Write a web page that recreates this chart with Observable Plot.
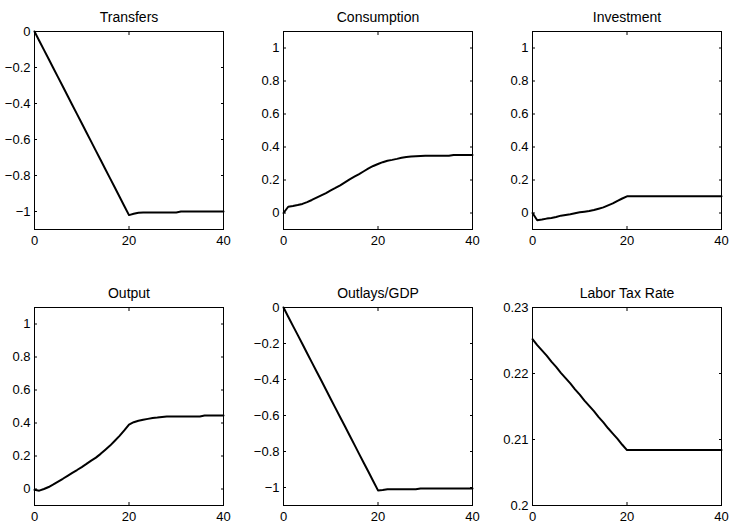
<!DOCTYPE html>
<html>
<head>
<meta charset="utf-8">
<script src="https://cdn.jsdelivr.net/npm/d3@7"></script>
<script src="https://cdn.jsdelivr.net/npm/@observablehq/plot@0.6"></script>
<style>
  html, body { margin: 0; padding: 0; background: #fff; }
  #chart { position: relative; width: 729px; height: 527px; background: #fff; overflow: hidden; }
  #chart svg { position: absolute; }
</style>
</head>
<body>
<div id="chart"></div>
<script>
const periods = [0,1,2,3,4,5,6,7,8,9,10,11,12,13,14,15,16,17,18,19,20,21,22,23,24,25,26,27,28,29,30,31,32,33,34,35,36,37,38,39,40];

const titles = ["Transfers", "Consumption", "Investment", "Output", "Outlays/GDP", "Labor Tax Rate"];

const transfers = [0,-0.051,-0.102,-0.153,-0.204,-0.255,-0.306,-0.357,-0.408,-0.459,-0.51,-0.561,-0.612,-0.663,-0.714,-0.765,-0.816,-0.867,-0.918,-0.969,-1.02,
  -1.013,-1.007,-1.006,-1.006,-1.006,-1.006,-1.006,-1.006,-1.006,-1.005,
  -1.0,-1.0,-1.0,-1.0,-1.0,-1.0,-1.0,-1.0,-1.0,-1.0];

const consumption = [0,0.038,0.042,0.048,0.055,0.066,0.079,0.093,0.107,0.121,0.137,0.152,0.168,0.186,0.204,0.22,0.236,0.253,0.27,0.285,0.297,
  0.308,0.317,0.322,0.328,0.335,0.34,0.342,0.344,0.346,
  0.347,0.347,0.347,0.347,0.347,0.347,
  0.352,0.352,0.352,0.352,0.352];

const investment = [0,-0.044,-0.04,-0.034,-0.03,-0.024,-0.016,-0.012,-0.008,-0.002,0.004,0.008,0.012,0.018,0.026,0.034,0.046,0.058,0.074,0.088,0.101,
  0.101,0.101,0.101,0.101,0.101,0.101,0.101,0.101,0.101,0.101,
  0.101,0.101,0.101,0.101,0.101,0.101,0.101,0.101,0.101,0.101];

const output = [-0.005,-0.01,0.0,0.012,0.028,0.045,0.062,0.08,0.098,0.115,0.133,0.152,0.172,0.19,0.213,0.238,0.263,0.292,0.322,0.355,0.39,
  0.405,0.414,0.42,0.425,0.43,0.433,0.437,0.44,
  0.44,0.44,0.44,0.44,0.44,0.44,0.44,
  0.446,0.446,0.446,0.446,0.446];

const outlaysGdp = [0,-0.051,-0.102,-0.152,-0.203,-0.254,-0.305,-0.356,-0.406,-0.457,-0.508,-0.559,-0.61,-0.66,-0.711,-0.762,-0.813,-0.864,-0.914,-0.965,-1.016,
  -1.014,
  -1.01,-1.01,-1.01,-1.01,-1.01,-1.01,-1.01,
  -1.005,-1.005,-1.005,-1.005,-1.005,-1.005,-1.005,-1.005,-1.005,-1.005,-1.005,-1.005];

const laborTax = [0.2252,0.2243,0.2235,0.2227,0.2218,0.221,0.2201,0.2193,0.2185,0.2176,0.2168,0.2159,0.2151,0.2143,0.2134,0.2126,0.2117,0.2109,0.2101,0.2092,0.2084,
  0.2084,0.2084,0.2084,0.2084,0.2084,0.2084,0.2084,0.2084,0.2084,0.2084,
  0.2084,0.2084,0.2084,0.2084,0.2084,0.2084,0.2084,0.2084,0.2084,0.2084];

const xTicks = [0, 20, 40];
const yTicksNeg = [0, -0.2, -0.4, -0.6, -0.8, -1];
const yTicksPos = [0, 0.2, 0.4, 0.6, 0.8, 1];
const yTicksTax = [0.2, 0.21, 0.22, 0.23];

const domainNeg = [-1.1, 0];
const domainPos = [-0.1, 1.1];
const domainTax = [0.2, 0.23];

const series = [transfers, consumption, investment, output, outlaysGdp, laborTax];
const domains = [domainNeg, domainPos, domainPos, domainPos, domainNeg, domainTax];
const yTicks = [yTicksNeg, yTicksPos, yTicksPos, yTicksPos, yTicksNeg, yTicksTax];

// layout (frame boxes)
const colLeft = [34, 282.5, 531.5];
const rowTop = [31, 306.5];
const boxW = 189, boxH = 198;
const mL = 34, mT = 31, mR = 8, mB = 22;

const fmt = d => String(d).replace("-", "\u2212");
const chart = document.getElementById("chart");

series.forEach((vals, i) => {
  const col = i % 3, row = Math.floor(i / 3);
  const rows = periods.map((t, j) => ({t, v: vals[j]}));
  const svg = Plot.plot({
    width: mL + boxW + mR,
    height: mT + boxH + mB,
    marginLeft: mL, marginTop: mT, marginRight: mR, marginBottom: mB,
    style: {fontFamily: "'Liberation Sans', Arial, sans-serif", fontSize: "13px", background: "white", color: "black", overflow: "visible"},
    x: {domain: [0, 40]},
    y: {domain: domains[i]},
    marks: [
      Plot.axisY({anchor: "left", ticks: yTicks[i], tickSize: 0, tickPadding: 4, tickFormat: fmt, label: null, fontSize: 13}),
      Plot.axisY({anchor: "left", ticks: yTicks[i], tickSize: -3, fill: "none", label: null}),
      Plot.axisY({anchor: "right", ticks: yTicks[i], tickSize: -3, fill: "none", label: null}),
      Plot.axisX({anchor: "bottom", ticks: xTicks, tickSize: 0, tickPadding: 6, tickFormat: fmt, label: null, fontSize: 13}),
      Plot.axisX({anchor: "bottom", ticks: xTicks, tickSize: -3, fill: "none", label: null}),
      Plot.axisX({anchor: "top", ticks: xTicks, tickSize: -3, fill: "none", label: null}),
      Plot.line(rows, {x: "t", y: "v", stroke: "black", strokeWidth: 2}),
      Plot.frame({stroke: "black", strokeWidth: 1}),
      Plot.text([titles[i]], {frameAnchor: "top", dy: -19, fontSize: 14, fill: "black"})
    ]
  });
  svg.style.left = (colLeft[col] - mL) + "px";
  svg.style.top = (rowTop[row] - mT) + "px";
  chart.appendChild(svg);
});
</script>
</body>
</html>
